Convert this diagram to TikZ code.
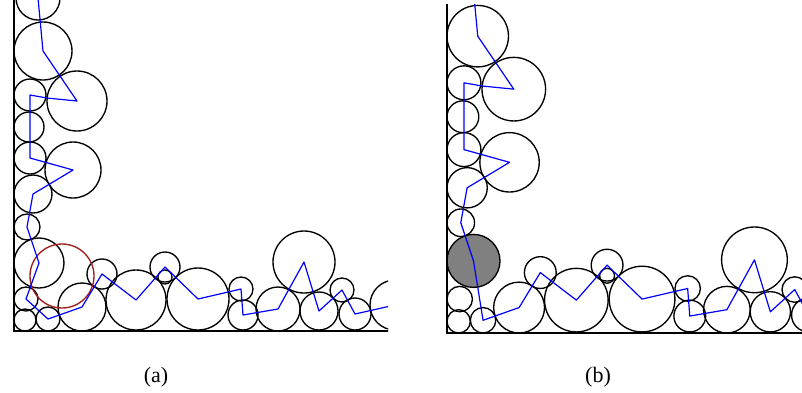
\documentclass[tikz,border=0pt]{standalone}
\usepackage{fontspec}
\setmainfont{Liberation Serif}
\definecolor{pathblue}{RGB}{0,0,255}
\definecolor{ringred}{RGB}{160,30,30}
\tikzset{
  disc/.style={draw=black, line width=1.35pt},
  trail/.style={draw=pathblue, line width=1.2pt, line join=round},
  wall/.style={draw=black, line width=2pt},
  lbl/.style={font=\fontsize{22}{26}\selectfont, inner sep=0pt}
}
% circle centres, relative to the corner (y grows downward)
\newcommand\setpts[1]{%
  \coordinate (#1C0) at (24,-333);
  \coordinate (#1C1) at (29,-280);
  \coordinate (#1C2) at (63,-230);
  \coordinate (#1P) at (33,-233);
  \coordinate (#1C3) at (16,-236);
  \coordinate (#1C4) at (15,-204);
  \coordinate (#1C5) at (16,-173);
  \coordinate (#1C6) at (59,-161);
  \coordinate (#1C7) at (19,-137);
  \coordinate (#1C8) at (13,-104);
  \coordinate (#1C9) at (25,-68);
  \coordinate (#1C10) at (12,-32);
  \coordinate (#1C11) at (11,-11);
  \coordinate (#1C12) at (34,-12);
  \coordinate (#1C13) at (68,-24);
  \coordinate (#1C14) at (88,-57);
  \coordinate (#1C15) at (122,-31);
  \coordinate (#1C16) at (151,-64);
  \coordinate (#1C16b) at (151,-54);
  \coordinate (#1C17) at (184,-32);
  \coordinate (#1C18) at (227,-42);
  \coordinate (#1C19) at (229,-16);
  \coordinate (#1C20) at (264,-22);
  \coordinate (#1C21) at (290,-69);
  \coordinate (#1C22) at (305,-20);
  \coordinate (#1C23) at (328,-41);
  \coordinate (#1C24) at (341,-17);
  \coordinate (#1C25) at (381,-26);
  \coordinate (#1O) at (0,0);
  \coordinate (#1T) at (0,-335);
  \coordinate (#1R) at (400,0);
}
\newcommand\drawcircles[1]{%
  \draw[disc] (#1C0) circle (22);
  \draw[disc] (#1C1) circle (29);
  \draw[disc] (#1C2) circle (30);
  \draw[disc] (#1C3) circle (16);
  \draw[disc] (#1C4) circle (15);
  \draw[disc] (#1C5) circle (16);
  \draw[disc] (#1C6) circle (28);
  \draw[disc] (#1C7) circle (19);
  \draw[disc] (#1C8) circle (13);
  \draw[disc] (#1C10) circle (12);
  \draw[disc] (#1C11) circle (11);
  \draw[disc] (#1C12) circle (12);
  \draw[disc] (#1C13) circle (24);
  \draw[disc] (#1C14) circle (15);
  \draw[disc] (#1C15) circle (30);
  \draw[disc] (#1C16) circle (15);
  \draw[disc] (#1C16b) circle (7);
  \draw[disc] (#1C17) circle (31);
  \draw[disc] (#1C18) circle (12);
  \draw[disc] (#1C19) circle (15);
  \draw[disc] (#1C20) circle (22);
  \draw[disc] (#1C21) circle (31);
  \draw[disc] (#1C22) circle (19);
  \draw[disc] (#1C23) circle (12);
  \draw[disc] (#1C24) circle (16);
  \draw[disc] (#1C25) circle (25);
}
\begin{document}
\begin{tikzpicture}[x=1pt, y=-1pt]
\useasboundingbox (0,0) rectangle (802,392);

% ---------- panel (a) ----------
\begin{scope}[shift={(14,331)}]
  \setpts{a}
  \clip (-3,-331) rectangle (374,3);
  \drawcircles{a}
  \draw[disc] (aC9) circle (25);
  \draw[disc, draw=ringred] (48,-55) circle (32);
  \draw[trail] (aC0) -- (aC1) -- (aC2) -- (aP) -- (aC3) -- (aC5) -- (aC6)
    -- (aC7) -- (aC8) -- (aC9) -- (aC10) -- (aC12) -- (aC13) -- (aC14)
    -- (aC15) -- (aC16) -- (aC17) -- (aC18) -- (aC19) -- (aC20) -- (aC21)
    -- (aC22) -- (aC23) -- (aC24) -- (aC25);
  \draw[wall] (aT) -- (aO) -- (aR);
\end{scope}

% ---------- panel (b) ----------
\begin{scope}[shift={(447,333)}, scale=1.06]
  \setpts{b}
  \clip (-3,-310) rectangle (337,3);
  \drawcircles{b}
  \draw[disc, fill={rgb,255:red,128;green,128;blue,128}] (bC9) circle (25);
  \draw[trail] (bC0) -- (bC1) -- (bC2) -- (bP) -- (bC3) -- (bC5) -- (bC6)
    -- (bC7) -- (bC8) -- (bC9) -- (bC12) -- (bC13) -- (bC14)
    -- (bC15) -- (bC16) -- (bC17) -- (bC18) -- (bC19) -- (bC20) -- (bC21)
    -- (bC22) -- (bC23) -- (bC24) -- (bC25);
  \draw[wall] (bT) -- (bO) -- (bR);
\end{scope}

\node[lbl] (la) at (156,377) {(a)};
\node[lbl] (lb) at (598,377) {(b)};
\end{tikzpicture}
\end{document}
